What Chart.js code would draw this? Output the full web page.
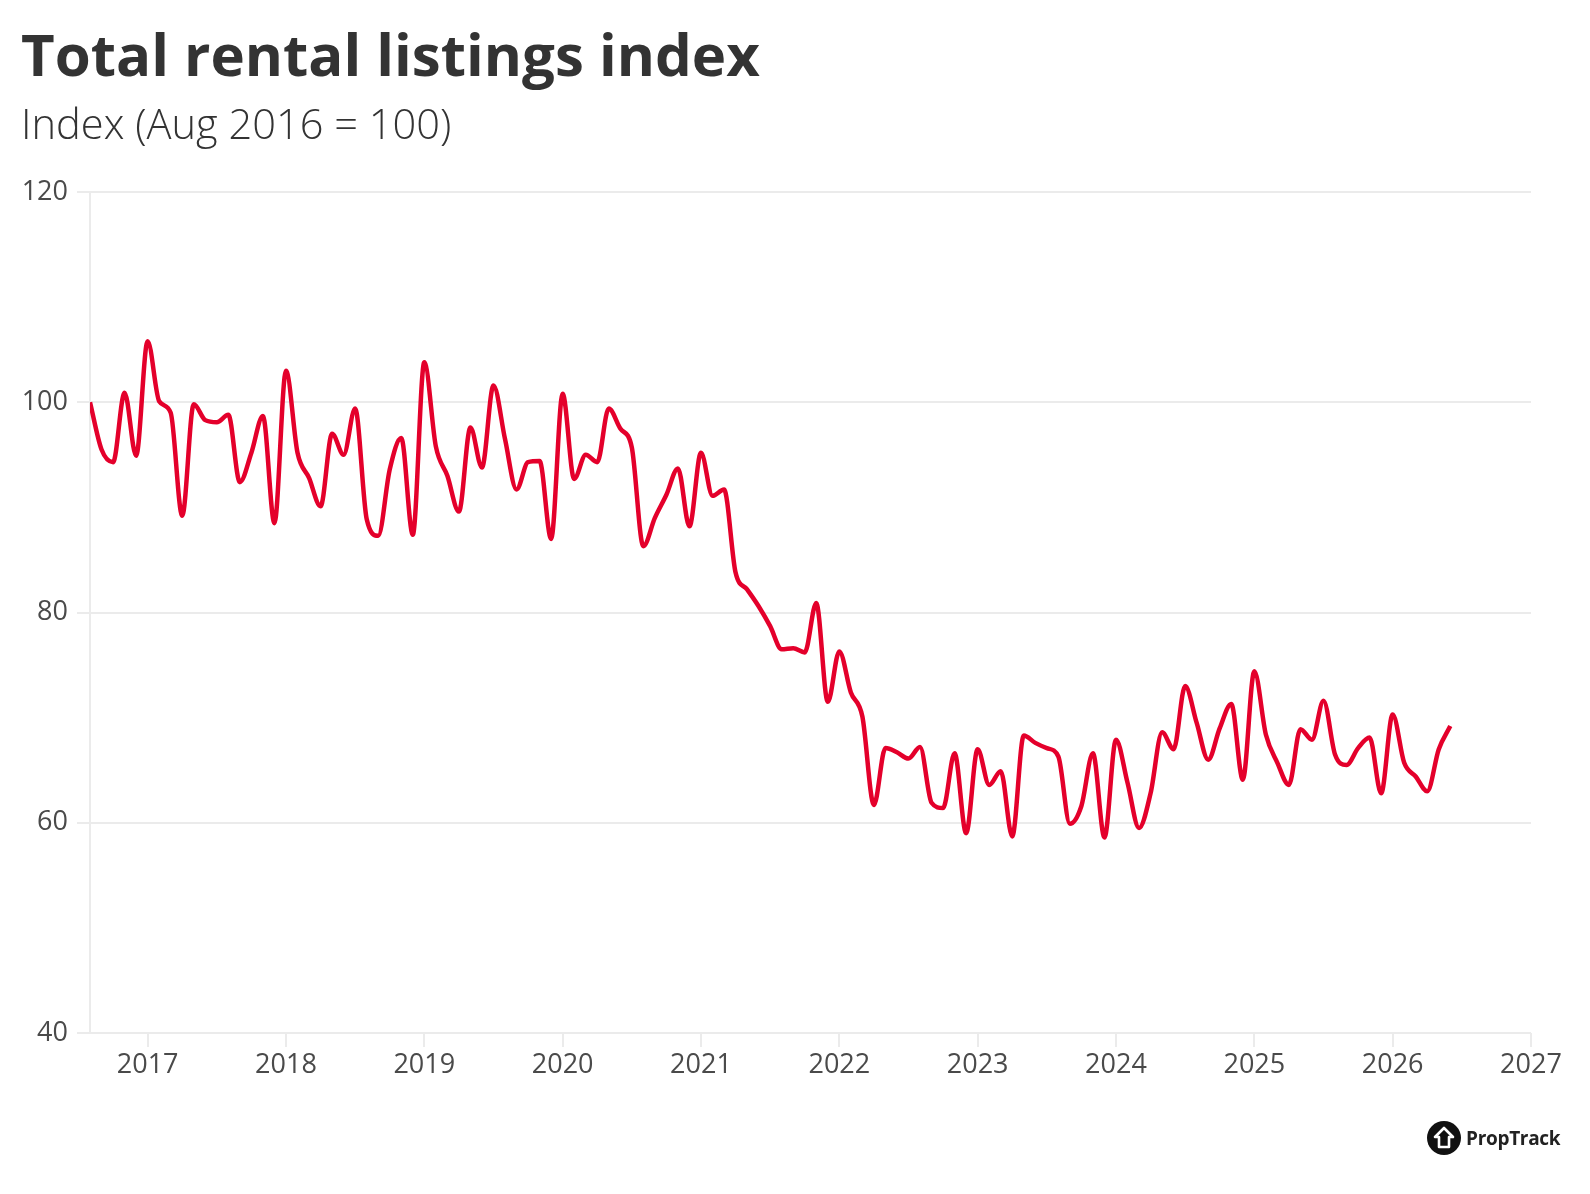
<!DOCTYPE html>
<html>
<head>
<meta charset="utf-8">
<script src="https://cdn.jsdelivr.net/npm/chart.js@4.4.1/dist/chart.umd.min.js"></script>
<style>
  html, body { margin: 0; padding: 0; background: #fff; }
  #wrap { position: relative; width: 1590px; height: 1194px; overflow: hidden; }
  #chart-canvas { position: absolute; left: 0; top: 0; }
  .title { position: absolute; left: 21px; top: 25px; font: 700 58.2px/1 "Open Sans", sans-serif; color: #333; white-space: nowrap; }
  .subtitle { position: absolute; left: 21px; top: 103px; font: 300 41.6px/1 "Open Sans", sans-serif; color: #333; white-space: nowrap; }
  .logo { position: absolute; left: 1427px; top: 1121px; height: 34px; display: flex; align-items: center; }
  .logo span { margin-left: 5px; font: 700 19px/1 "Open Sans", sans-serif; color: #222; letter-spacing: -0.3px; }
</style>
</head>
<body>
<div id="wrap">
  <canvas id="chart-canvas" width="1590" height="1194"></canvas>
  <div class="title">Total rental listings index</div>
  <div class="subtitle">Index (Aug 2016 = 100)</div>
  <div class="logo">
    <svg width="34" height="34" viewBox="0 0 34 34">
      <circle cx="17" cy="17" r="17" fill="#111"/>
      <path d="M17 7 L26 16 L22 16 L22 26 L12 26 L12 16 L8 16 Z" fill="none" stroke="#fff" stroke-width="2.6" stroke-linejoin="round"/>
    </svg>
    <span>PropTrack</span>
  </div>
</div>
<script>
// monthly series, first value is Aug 2016
const startYear = 2016;
const startMonth = 8;

const rentalIndex = [
  100, 95.5, 94.3, 100.9, 94.9, 105.8, 100.1, 99.0, 89.2, 99.8,
  98.3, 98.1, 98.8, 92.4, 95.2, 98.7, 88.5, 103.0, 95.2, 92.8,
  90.1, 97.0, 95.0, 99.4, 88.9, 87.3, 93.6, 96.6, 87.4, 103.8,
  95.8, 93.0, 89.6, 97.6, 93.8, 101.6, 96.5, 91.7, 94.3, 94.4,
  87.0, 100.8, 92.7, 95.0, 94.3, 99.4, 97.5, 95.7, 86.3, 89.0,
  91.2, 93.7, 88.2, 95.2, 91.1, 91.7, 83.8, 82.2, 80.6, 78.7,
  76.5, 76.6, 76.2, 80.9, 71.5, 76.3, 72.4, 70.1, 61.7, 67.1,
  66.7, 66.1, 67.2, 61.9, 61.4, 66.6, 59.0, 67.0, 63.6, 64.9,
  58.7, 68.3, 67.6, 67.1, 66.3, 59.9, 61.6, 66.6, 58.6, 67.9,
  63.8, 59.5, 62.8, 68.6, 67.0, 73.0, 69.5, 66.0, 69.0, 71.3,
  64.1, 74.4, 68.4, 65.7, 63.6, 68.9, 67.9, 71.6, 66.5, 65.5,
  67.1, 68.1, 62.8, 70.3, 65.7, 64.4, 63.0, 67.0, 69.2
];

const yearTicks = [2017, 2018, 2019, 2020, 2021, 2022, 2023, 2024, 2025, 2026, 2027];
const valueTicks = [40, 60, 80, 100, 120];

const xStart = startYear + (startMonth - 1) / 12;

const points = rentalIndex.map((v, i) => ({ x: xStart + i / 12, y: v }));

const gridColor = '#ebebeb';
const tickFont = { family: '"Open Sans", sans-serif', size: 27 };

const config = {
  type: 'line',
  data: {
    datasets: [{
      label: 'Total rental listings index',
      data: points,
      borderColor: '#e4002b',
      borderWidth: 4.5,
      pointRadius: 0,
      cubicInterpolationMode: 'monotone',
      fill: false
    }]
  },
  options: {
    responsive: false,
    animation: false,
    devicePixelRatio: 1,
    layout: { padding: { left: 0, top: 192, right: 59, bottom: 101 } },
    plugins: {
      legend: { display: false },
      tooltip: { enabled: false }
    },
    scales: {
      x: {
        type: 'linear',
        min: xStart,
        max: 2027,
        afterBuildTicks: axis => { axis.ticks = yearTicks.map(v => ({ value: v })); },
        afterFit: axis => { axis.height = 60; },
        ticks: {
          callback: v => String(v),
          color: '#4a4a4a',
          font: tickFont,
          padding: 2,
          maxRotation: 0,
          autoSkip: false
        },
        grid: {
          drawOnChartArea: false,
          drawTicks: true,
          tickLength: 14,
          color: gridColor,
          lineWidth: 2
        },
        border: { display: false }
      },
      y: {
        min: 40,
        max: 120,
        afterBuildTicks: axis => { axis.ticks = valueTicks.map(v => ({ value: v })); },
        afterFit: axis => { axis.width = 90; },
        ticks: {
          color: '#4a4a4a',
          font: tickFont,
          padding: 9
        },
        grid: {
          color: gridColor,
          lineWidth: 2,
          tickLength: 13
        },
        border: { display: true, color: gridColor, width: 2 }
      }
    }
  }
};

let myChart = new Chart(document.getElementById('chart-canvas'), config);
</script>
</body>
</html>
